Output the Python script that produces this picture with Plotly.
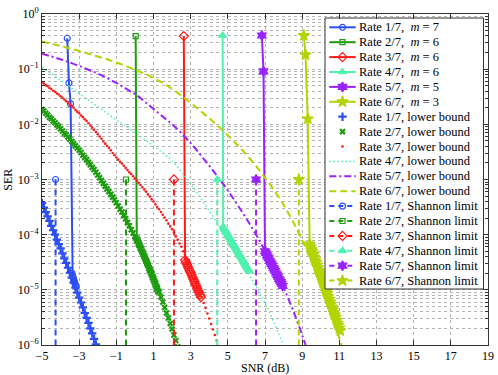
import plotly.graph_objects as go

# ---------------- data ----------------
rates = ["1/7", "2/7", "3/7", "4/7", "5/7", "6/7"]
memory = [7, 6, 6, 6, 5, 3]

# simulated SER curves (SNR in dB, SER given as log10 values)
snr_r17 = [-3.64, -3.55, -3.46, -3.38, -3.35, -3.32, -3.29, -3.26, -3.23, -3.20, -3.17]
ser_r17_log = [-0.44, -1.25, -1.63, -4.70, -4.74, -4.78, -4.82, -4.85, -4.88, -4.91, -4.94]

snr_r27 = [0.04, 0.10, 0.15, 0.20, 0.25, 0.30, 0.35, 0.40, 0.45, 0.50, 0.55, 0.60, 0.65,
           0.70, 0.75, 0.80, 0.85, 0.90, 0.95, 1.00, 1.05, 1.10, 1.15, 1.20, 1.25]
ser_r27_log = [-0.40, -4.07, -4.11, -4.15, -4.19, -4.23, -4.27, -4.31, -4.35, -4.39, -4.43,
               -4.47, -4.51, -4.55, -4.60, -4.64, -4.68, -4.72, -4.77, -4.81, -4.85, -4.90,
               -4.94, -4.99, -5.03]

snr_r37 = [2.63, 2.70, 2.75, 2.80, 2.85, 2.90, 2.95, 3.00, 3.05, 3.10, 3.15, 3.20, 3.25,
           3.30, 3.35, 3.40, 3.45, 3.50, 3.55]
ser_r37_log = [-0.40, -4.46, -4.50, -4.54, -4.58, -4.62, -4.66, -4.69, -4.73, -4.77, -4.81,
               -4.85, -4.89, -4.93, -4.97, -5.01, -5.05, -5.09, -5.13]

snr_r47 = [4.72, 4.75, 4.80, 4.85, 4.90, 4.95, 5.00, 5.05, 5.10, 5.15, 5.20, 5.25, 5.30,
           5.35, 5.40, 5.45, 5.50, 5.55, 5.60, 5.65, 5.70, 5.75, 5.80, 5.85, 5.90, 5.95,
           6.00, 6.05, 6.10, 6.15]
ser_r47_log = [-0.39, -3.86, -3.89, -3.92, -3.95, -3.97, -4.00, -4.03, -4.06, -4.09, -4.12,
               -4.15, -4.17, -4.20, -4.23, -4.26, -4.29, -4.32, -4.35, -4.38, -4.40, -4.43,
               -4.46, -4.49, -4.52, -4.55, -4.58, -4.61, -4.63, -4.66]

snr_r57 = [6.83, 6.92, 7.00, 7.05, 7.10, 7.15, 7.20, 7.25, 7.30, 7.35, 7.40, 7.45, 7.50,
           7.55, 7.60, 7.65, 7.70, 7.75, 7.80, 7.85, 7.90, 7.95]
ser_r57_log = [-0.39, -1.04, -4.30, -4.33, -4.37, -4.40, -4.43, -4.47, -4.50, -4.53, -4.56,
               -4.60, -4.63, -4.66, -4.70, -4.73, -4.76, -4.80, -4.83, -4.86, -4.89, -4.93]

snr_r67 = [9.09, 9.18, 9.30, 9.40, 9.45, 9.50, 9.55, 9.60, 9.65, 9.70, 9.75, 9.80, 9.85,
           9.90, 9.95, 10.00, 10.05, 10.10, 10.15, 10.20, 10.25, 10.30, 10.35, 10.40,
           10.45, 10.50, 10.55, 10.60, 10.65, 10.70, 10.75, 10.80, 10.85, 10.90, 10.95,
           11.00, 11.05]
ser_r67_log = [-0.39, -0.74, -1.90, -4.17, -4.22, -4.27, -4.31, -4.36, -4.41, -4.46, -4.50,
               -4.55, -4.60, -4.65, -4.69, -4.74, -4.79, -4.84, -4.88, -4.93, -4.98, -5.03,
               -5.07, -5.12, -5.17, -5.22, -5.26, -5.31, -5.36, -5.41, -5.45, -5.50, -5.55,
               -5.60, -5.64, -5.69, -5.74]

# lower bounds
lb_snr_r17 = [-5.0, -4.9, -4.8, -4.7, -4.6, -4.5, -4.4, -4.3, -4.2, -4.1, -4.0, -3.9, -3.8,
              -3.7, -3.6, -3.5, -3.4, -3.3, -3.2, -3.1, -3.0, -2.9, -2.8, -2.7, -2.6, -2.5,
              -2.4, -2.3, -2.2, -2.1]
lb_r17_log = [-3.43, -3.51, -3.59, -3.67, -3.75, -3.84, -3.92, -4.00, -4.09, -4.17, -4.25,
              -4.34, -4.43, -4.51, -4.60, -4.69, -4.78, -4.87, -4.96, -5.05, -5.14, -5.23,
              -5.32, -5.42, -5.51, -5.60, -5.70, -5.79, -5.89, -5.99]

lb_snr_r27 = [-5.0, -4.9, -4.8, -4.7, -4.6, -4.5, -4.4, -4.3, -4.2, -4.1, -4.0, -3.9, -3.8,
              -3.7, -3.6, -3.5, -3.4, -3.3, -3.2, -3.1, -3.0, -2.9, -2.8, -2.7, -2.6, -2.5,
              -2.4, -2.3, -2.2, -2.1, -2.0, -1.9, -1.8, -1.7, -1.6, -1.5, -1.4, -1.3, -1.2,
              -1.1, -1.0, -0.9, -0.8, -0.7, -0.6, -0.5, -0.4, -0.3, -0.2, -0.1, 0.0, 0.1,
              0.2, 0.3, 0.4, 0.5, 0.6, 0.7, 0.8, 0.9, 1.0, 1.1, 1.2, 1.3, 1.4, 1.5, 1.6,
              1.7, 1.8, 1.9, 2.0, 2.1, 2.2, 2.3]
lb_r27_log = [-1.73, -1.76, -1.80, -1.83, -1.87, -1.90, -1.94, -1.97, -2.01, -2.04, -2.08,
              -2.12, -2.16, -2.19, -2.23, -2.27, -2.31, -2.35, -2.39, -2.43, -2.47, -2.51,
              -2.56, -2.60, -2.64, -2.69, -2.73, -2.78, -2.82, -2.87, -2.92, -2.97, -3.02,
              -3.07, -3.12, -3.17, -3.22, -3.27, -3.32, -3.37, -3.42, -3.48, -3.54, -3.59,
              -3.65, -3.71, -3.78, -3.84, -3.91, -3.97, -4.04, -4.11, -4.18, -4.25, -4.32,
              -4.39, -4.47, -4.55, -4.62, -4.70, -4.78, -4.87, -4.96, -5.04, -5.13, -5.22,
              -5.32, -5.42, -5.51, -5.61, -5.71, -5.82, -5.92, -6.03]

lb_snr_r37 = [-5.0, -4.9, -4.8, -4.7, -4.6, -4.5, -4.4, -4.3, -4.2, -4.1, -4.0, -3.9, -3.8,
              -3.7, -3.6, -3.5, -3.4, -3.3, -3.2, -3.1, -3.0, -2.9, -2.8, -2.7, -2.6, -2.5,
              -2.4, -2.3, -2.2, -2.1, -2.0, -1.9, -1.8, -1.7, -1.6, -1.5, -1.4, -1.3, -1.2,
              -1.1, -1.0, -0.9, -0.8, -0.7, -0.6, -0.5, -0.4, -0.3, -0.2, -0.1, 0.0, 0.1,
              0.2, 0.3, 0.4, 0.5, 0.6, 0.7, 0.8, 0.9, 1.0, 1.1, 1.2, 1.3, 1.4, 1.5, 1.6,
              1.7, 1.8, 1.9, 2.0, 2.1, 2.2, 2.3, 2.4, 2.5, 2.6, 2.7, 2.8, 2.9, 3.0, 3.1,
              3.2, 3.3, 3.4, 3.5, 3.6, 3.7, 3.8, 3.9, 4.0, 4.1, 4.2, 4.3, 4.4, 4.5]
lb_r37_log = [-1.24, -1.26, -1.29, -1.31, -1.34, -1.36, -1.39, -1.41, -1.44, -1.46, -1.49,
              -1.52, -1.55, -1.58, -1.61, -1.64, -1.67, -1.70, -1.74, -1.77, -1.80, -1.84,
              -1.87, -1.91, -1.94, -1.98, -2.02, -2.06, -2.10, -2.14, -2.18, -2.22, -2.26,
              -2.31, -2.35, -2.39, -2.43, -2.47, -2.52, -2.56, -2.60, -2.64, -2.68, -2.71,
              -2.75, -2.79, -2.83, -2.87, -2.90, -2.94, -2.98, -3.02, -3.06, -3.10, -3.14,
              -3.18, -3.22, -3.27, -3.31, -3.36, -3.40, -3.45, -3.50, -3.54, -3.59, -3.64,
              -3.69, -3.74, -3.80, -3.85, -3.90, -3.96, -4.03, -4.09, -4.16, -4.22, -4.30,
              -4.37, -4.45, -4.52, -4.60, -4.69, -4.78, -4.87, -4.96, -5.05, -5.14, -5.24,
              -5.33, -5.43, -5.52, -5.62, -5.72, -5.82, -5.92, -6.02]

lb_snr_r47 = [-5.0, -4.5, -4.0, -3.5, -3.0, -2.5, -2.0, -1.5, -1.0, -0.5, 0.0, 0.5, 1.0,
              1.5, 2.0, 2.5, 3.0, 3.5, 4.0, 4.5, 5.0, 5.5, 6.0, 6.5, 7.0, 7.5, 8.0]
lb_r47_log = [-0.97, -1.08, -1.20, -1.32, -1.44, -1.56, -1.68, -1.80, -1.92, -2.03, -2.15,
              -2.27, -2.39, -2.52, -2.66, -2.86, -3.08, -3.32, -3.57, -3.83, -4.09, -4.36,
              -4.64, -4.93, -5.24, -5.60, -6.02]

lb_snr_r57 = [-5.0, -4.5, -4.0, -3.5, -3.0, -2.5, -2.0, -1.5, -1.0, -0.5, 0.0, 0.5, 1.0,
              1.5, 2.0, 2.5, 3.0, 3.5, 4.0, 4.5, 5.0, 5.5, 6.0, 6.5, 7.0, 7.5, 8.0, 8.5,
              9.0, 9.3]
lb_r57_log = [-0.72, -0.77, -0.82, -0.88, -0.94, -1.01, -1.08, -1.16, -1.25, -1.35, -1.45,
              -1.58, -1.72, -1.86, -2.00, -2.16, -2.34, -2.54, -2.75, -2.97, -3.20, -3.45,
              -3.71, -3.99, -4.29, -4.61, -4.96, -5.36, -5.82, -6.12]

lb_snr_r67 = [-5.0, -4.5, -4.0, -3.5, -3.0, -2.5, -2.0, -1.5, -1.0, -0.5, 0.0, 0.5, 1.0,
              1.5, 2.0, 2.5, 3.0, 3.5, 4.0, 4.5, 5.0, 5.5, 6.0, 6.5, 7.0, 7.5, 8.0, 8.5,
              9.0, 9.5, 10.0, 10.5, 11.0, 11.5]
lb_r67_log = [-0.50, -0.54, -0.58, -0.625, -0.67, -0.72, -0.77, -0.82, -0.88, -0.94, -1.01,
              -1.08, -1.16, -1.25, -1.36, -1.48, -1.61, -1.75, -1.89, -2.04, -2.20, -2.37,
              -2.55, -2.75, -2.97, -3.20, -3.46, -3.76, -4.10, -4.50, -4.94, -5.40, -5.88,
              -6.38]

# Shannon limits (dB) and the SER span of their markers
shannon_snr = [-4.27, -0.48, 2.10, 4.43, 6.52, 8.82]
shannon_ser = [1e-3, 1e-7]

# axis ticks
x_ticks = [-5, -3, -1, 1, 3, 5, 7, 9, 11, 13, 15, 17, 19]
y_exponents = [-6, -5, -4, -3, -2, -1, 0]

# ---------------- styling ----------------
colors = ["#2b4ef5", "#1e9c10", "#ff1a1a", "#4ff2ae", "#9a22ff", "#b3d400"]
m_symbols = ["circle-open", "square-open", "diamond-open", "triangle-up", "hexagram", "star"]
m_sizes = [6, 5, 7, 7, 7.5, 8.5]
FONT = "Liberation Serif"

sim_snr = [snr_r17, snr_r27, snr_r37, snr_r47, snr_r57, snr_r67]
sim_log = [ser_r17_log, ser_r27_log, ser_r37_log, ser_r47_log, ser_r57_log, ser_r67_log]
lb_snr = [lb_snr_r17, lb_snr_r27, lb_snr_r37, lb_snr_r47, lb_snr_r57, lb_snr_r67]
lb_log = [lb_r17_log, lb_r27_log, lb_r37_log, lb_r47_log, lb_r57_log, lb_r67_log]

fig = go.Figure()


def mk(i):
    return dict(symbol=m_symbols[i], size=m_sizes[i], color=colors[i],
                line=dict(color=colors[i], width=1.2))


# simulated curves
for i in range(6):
    fig.add_trace(go.Scatter(
        x=sim_snr[i], y=[10 ** v for v in sim_log[i]], mode="lines+markers",
        line=dict(color=colors[i], width=2), marker=mk(i), showlegend=False,
        hoverinfo="skip"))

# lower bounds
lb_marker_styles = [
    dict(symbol="cross-thin", size=6, color=colors[0], line=dict(color=colors[0], width=2.2)),
    dict(symbol="x-thin", size=5, color=colors[1], line=dict(color=colors[1], width=2.2)),
    dict(symbol="circle", size=2.6, color=colors[2], line=dict(width=0)),
]
lb_dashes = [None, None, None, "1.5px,2.5px", "7px,3px,2px,3px", "7px,4px"]
lb_widths = [0, 0, 0, 1.5, 2, 2]
for i in range(6):
    if i < 3:
        fig.add_trace(go.Scatter(
            x=lb_snr[i], y=[10 ** v for v in lb_log[i]], mode="markers",
            marker=lb_marker_styles[i], showlegend=False, hoverinfo="skip"))
    else:
        fig.add_trace(go.Scatter(
            x=lb_snr[i], y=[10 ** v for v in lb_log[i]], mode="lines",
            line=dict(color=colors[i], width=lb_widths[i], dash=lb_dashes[i],
                      shape="spline"),
            showlegend=False, hoverinfo="skip"))

# Shannon limits
for i in range(6):
    fig.add_trace(go.Scatter(
        x=[shannon_snr[i], shannon_snr[i]], y=shannon_ser, mode="lines+markers",
        line=dict(color=colors[i], width=2, dash="6px,4px"), marker=mk(i),
        showlegend=False, hoverinfo="skip"))

# ---------------- hand-drawn legend (pixel coordinates inside plot area) ----------------
PW, PH = 446, 331
box_x0, box_x1, box_y0, box_y1 = 283, 441.5, 4, 275
fig.add_trace(go.Scatter(
    x=[box_x0, box_x1, box_x1, box_x0, box_x0], y=[box_y0, box_y0, box_y1, box_y1, box_y0],
    xaxis="x2", yaxis="y2", mode="lines", fill="toself", fillcolor="white",
    line=dict(color="#333333", width=1), showlegend=False, hoverinfo="skip"))

labels = []
for i in range(6):
    labels.append(("sim", i, f"Rate {rates[i]},\u00a0 <i>m</i> = {memory[i]}"))
for i in range(6):
    labels.append(("lb", i, f"Rate {rates[i]}, lower bound"))
for i in range(6):
    labels.append(("sh", i, f"Rate {rates[i]}, Shannon limit"))

sx0, sx1 = 287.3, 313.7
sxm = (sx0 + sx1) / 2
annotations = []
for k, (kind, i, text) in enumerate(labels):
    yc = 13.3 + 14.9 * k
    if kind == "sim":
        fig.add_trace(go.Scatter(x=[sx0, sx1], y=[yc, yc], xaxis="x2", yaxis="y2",
                                 mode="lines", line=dict(color=colors[i], width=2),
                                 showlegend=False, hoverinfo="skip"))
        fig.add_trace(go.Scatter(x=[sxm], y=[yc], xaxis="x2", yaxis="y2", mode="markers",
                                 marker=mk(i), showlegend=False, hoverinfo="skip"))
    elif kind == "lb":
        if i < 3:
            fig.add_trace(go.Scatter(x=[sxm], y=[yc], xaxis="x2", yaxis="y2",
                                     mode="markers", marker=lb_marker_styles[i],
                                     showlegend=False, hoverinfo="skip"))
        else:
            fig.add_trace(go.Scatter(x=[sx0, sx1], y=[yc, yc], xaxis="x2", yaxis="y2",
                                     mode="lines",
                                     line=dict(color=colors[i], width=lb_widths[i],
                                               dash=lb_dashes[i]),
                                     showlegend=False, hoverinfo="skip"))
    else:
        fig.add_trace(go.Scatter(x=[sx0, sx1], y=[yc, yc], xaxis="x2", yaxis="y2",
                                 mode="lines",
                                 line=dict(color=colors[i], width=2, dash="5px,4px"),
                                 showlegend=False, hoverinfo="skip"))
        fig.add_trace(go.Scatter(x=[sxm], y=[yc], xaxis="x2", yaxis="y2", mode="markers",
                                 marker=mk(i), showlegend=False, hoverinfo="skip"))
    annotations.append(dict(x=314.5, y=yc, xref="x2", yref="y2", text=text,
                            showarrow=False, xanchor="left", yanchor="middle",
                            font=dict(family=FONT, size=12.5, color="black")))

# axis titles
annotations.append(dict(x=0.5, y=-0.0705, xref="paper", yref="paper", text="SNR (dB)",
                        showarrow=False, xanchor="center", yanchor="middle", borderpad=0,
                        font=dict(family=FONT, size=12, color="black")))
annotations.append(dict(x=-0.078, y=0.5, xref="paper", yref="paper", text="SER",
                        textangle=-90, showarrow=False, xanchor="center", yanchor="middle",
                        font=dict(family=FONT, size=12, color="black")))

grid_col = "#b4b4b4"
axis_common = dict(showline=True, linecolor="#333333", linewidth=1, mirror="allticks",
                   ticks="inside", ticklen=5, tickcolor="#333333", zeroline=False,
                   showgrid=True, gridcolor=grid_col, griddash="dot", gridwidth=1,
                   tickfont=dict(family=FONT, size=12, color="black"), automargin=False,
                   ticklabeloverflow="allow")

minor_vals = [m * 10.0 ** e for e in y_exponents[:-1] for m in range(2, 10)]
MINUS = "\u2212"

fig.update_layout(
    template="none",
    width=498, height=375,
    margin=dict(l=42, r=10, t=14, b=30),
    paper_bgcolor="white", plot_bgcolor="white",
    font=dict(family=FONT, size=12, color="black"),
    xaxis=dict(range=[-5, 19], tickmode="array", tickvals=x_ticks, **axis_common),
    yaxis=dict(type="log", range=[-6, 0], tickmode="array",
               tickvals=[10.0 ** e for e in y_exponents],
               ticktext=["10<sup>" + (MINUS if e < 0 else "") + str(abs(e)) + "</sup>"
                         for e in y_exponents],
               minor=dict(tickmode="array", tickvals=minor_vals, ticks="inside", ticklen=3,
                          tickcolor="#333333", showgrid=True, gridcolor=grid_col,
                          griddash="dot", gridwidth=1),
               **axis_common),
    xaxis2=dict(domain=[0, 1], range=[0, PW], overlaying="x", anchor="y2", visible=False,
                fixedrange=True),
    yaxis2=dict(domain=[0, 1], range=[PH, 0], overlaying="y", anchor="x2", visible=False,
                fixedrange=True),
    annotations=annotations,
    showlegend=False,
)

# remove the default 8 px page margin so the 498x375 figure fills the window exactly
fig.write_html("out.html",
               config={"displayModeBar": False},
               post_script="document.body.style.margin='0px';"
                           "document.body.style.overflow='hidden';")
